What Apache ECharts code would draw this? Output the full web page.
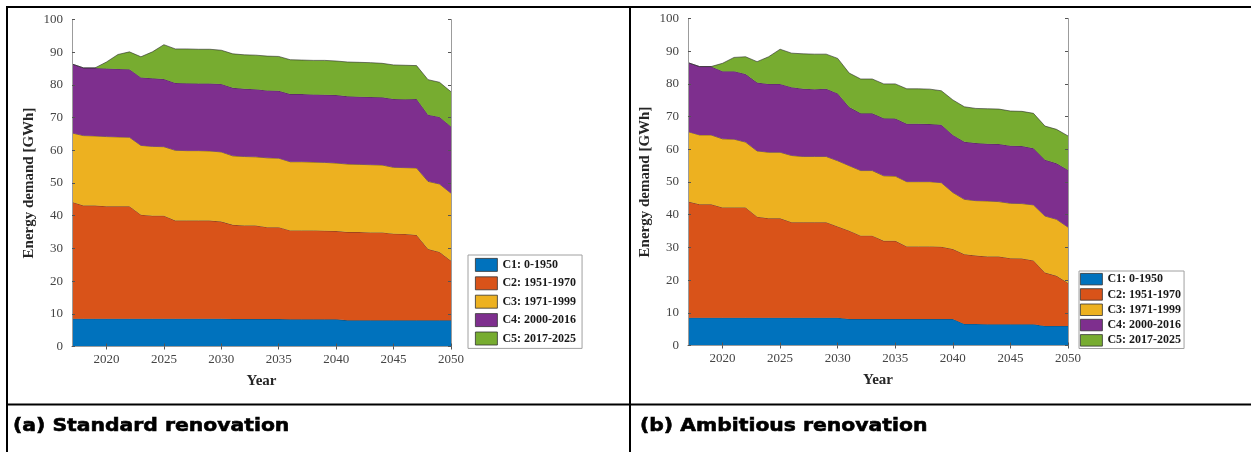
<!DOCTYPE html>
<html>
<head>
<meta charset="utf-8">
<script src="https://cdn.jsdelivr.net/npm/echarts@6/dist/echarts.min.js"></script>
<style>
  html, body { margin: 0; padding: 0; background: #fff; }
  #chart { width: 1251px; height: 452px; }
</style>
</head>
<body>
<div id="chart"></div>
<script>
// Building-stock energy demand by construction cohort, two renovation scenarios
const years = [2017, 2018, 2019, 2020, 2021, 2022, 2023, 2024, 2025, 2026, 2027, 2028,
  2029, 2030, 2031, 2032, 2033, 2034, 2035, 2036, 2037, 2038, 2039, 2040, 2041, 2042,
  2043, 2044, 2045, 2046, 2047, 2048, 2049, 2050];

const cohortNames = ['C1: 0-1950', 'C2: 1951-1970', 'C3: 1971-1999', 'C4: 2000-2016', 'C5: 2017-2025'];
const cohortColors = ['#0072BD', '#D95319', '#EDB120', '#7E2F8E', '#77AC30'];
const yTicks = [0, 10, 20, 30, 40, 50, 60, 70, 80, 90, 100];

// (a) Standard renovation, GWh per cohort
const standardC1 = [8.5, 8.5, 8.5, 8.5, 8.5, 8.5, 8.5, 8.5, 8.5, 8.5, 8.5, 8.5, 8.5, 8.5,
  8.4, 8.4, 8.4, 8.4, 8.4, 8.3, 8.3, 8.3, 8.3, 8.3, 8.0, 8.0, 8.0, 8.0, 8.0, 8.0, 8.0, 8.0, 8.0, 8.0];
const standardC2 = [35.7, 34.6, 34.6, 34.4, 34.4, 34.4, 31.8, 31.5, 31.5, 30.0, 30.0, 30.0,
  30.0, 29.7, 28.8, 28.6, 28.6, 28.1, 28.1, 27.2, 27.2, 27.2, 27.1, 27.0, 27.0, 27.0, 26.9,
  26.9, 26.5, 26.4, 26.1, 21.8, 20.9, 18.2];
const standardC3 = [21.1, 21.4, 21.3, 21.3, 21.2, 21.1, 21.2, 21.2, 21.1, 21.5, 21.4, 21.4,
  21.3, 21.3, 21.1, 21.1, 21.0, 21.2, 21.1, 21.0, 21.0, 20.9, 20.9, 20.8, 20.8, 20.7, 20.7,
  20.6, 20.3, 20.3, 20.5, 20.7, 20.8, 20.7];
const standardC4 = [21.1, 20.7, 20.8, 20.8, 20.8, 20.8, 20.8, 20.8, 20.7, 20.6, 20.6, 20.5,
  20.6, 20.8, 20.8, 20.7, 20.7, 20.6, 20.6, 20.7, 20.7, 20.7, 20.7, 20.8, 20.7, 20.7, 20.7,
  20.7, 20.9, 20.9, 21.1, 20.4, 20.5, 20.4];
const standardC5 = [0, 0, 0, 2.0, 4.4, 5.3, 6.3, 8.1, 10.5, 10.4, 10.5, 10.5, 10.5, 10.3,
  10.4, 10.4, 10.4, 10.5, 10.5, 10.5, 10.4, 10.4, 10.5, 10.4, 10.5, 10.5, 10.5, 10.4, 10.4,
  10.4, 10.2, 10.7, 10.6, 10.6];

// (b) Ambitious renovation, GWh per cohort
const ambitiousC1 = [8.5, 8.5, 8.5, 8.5, 8.5, 8.5, 8.5, 8.5, 8.5, 8.5, 8.5, 8.5, 8.5, 8.5,
  8.1, 8.1, 8.1, 8.1, 8.1, 8.1, 8.1, 8.1, 8.1, 8.1, 6.6, 6.6, 6.5, 6.5, 6.5, 6.5, 6.5, 6.0, 6.0, 6.0];
const ambitiousC2 = [35.5, 34.7, 34.7, 33.7, 33.7, 33.7, 30.9, 30.4, 30.4, 29.2, 29.2, 29.2,
  29.2, 27.9, 27.0, 25.5, 25.5, 23.9, 23.9, 22.2, 22.2, 22.2, 22.1, 21.4, 21.3, 20.9, 20.7,
  20.7, 20.2, 20.1, 19.5, 16.3, 15.3, 13.1];
const ambitiousC3 = [21.4, 21.2, 21.2, 21.0, 20.9, 20.0, 20.1, 20.2, 20.2, 20.4, 20.1, 20.1,
  20.1, 20.1, 19.9, 19.9, 19.9, 19.9, 19.8, 19.8, 19.8, 19.8, 19.6, 17.3, 16.8, 16.8, 17.0,
  16.8, 16.8, 16.8, 17.0, 17.3, 17.3, 17.1];
const ambitiousC4 = [21.1, 20.9, 20.9, 20.7, 20.8, 20.8, 20.9, 20.9, 20.9, 20.9, 20.7, 20.6,
  20.7, 20.6, 17.9, 17.5, 17.5, 17.6, 17.6, 17.7, 17.7, 17.6, 17.7, 17.6, 17.6, 17.6, 17.5,
  17.6, 17.6, 17.6, 17.3, 17.2, 17.1, 17.5];
const ambitiousC5 = [0, 0, 0, 2.4, 4.2, 5.3, 6.4, 8.3, 10.6, 10.4, 10.7, 10.7, 10.6, 10.7,
  10.4, 10.5, 10.5, 10.5, 10.6, 10.7, 10.7, 10.7, 10.4, 10.7, 10.7, 10.6, 10.7, 10.7, 10.6,
  10.6, 10.7, 10.3, 10.4, 10.4];

const standardSeries = [standardC1, standardC2, standardC3, standardC4, standardC5];
const ambitiousSeries = [ambitiousC1, ambitiousC2, ambitiousC3, ambitiousC4, ambitiousC5];

const serif = '"Liberation Serif", "Times New Roman", serif';
const boxColor = '#9c9c9c';
const everyFifth = (i, v) => Number(v) % 5 === 0;

function bottomAxis(grid) {
  return {
    type: 'category', gridIndex: grid, data: years.map(String), boundaryGap: false, z: 10,
    name: 'Year', nameLocation: 'middle', nameGap: 27,
    nameTextStyle: { fontFamily: serif, fontWeight: 'bold', fontSize: 15, color: '#262626' },
    axisLine: { show: true, lineStyle: { color: boxColor, width: 1 } },
    axisTick: { show: true, inside: true, length: 3, interval: everyFifth, lineStyle: { color: '#555' } },
    axisLabel: { interval: everyFifth, margin: 7, fontFamily: serif, fontSize: 13, color: '#444' },
    splitLine: { show: false }
  };
}
function topAxis(grid) {
  return {
    type: 'category', gridIndex: grid, data: years.map(String), boundaryGap: false, position: 'top', z: 10,
    axisLine: { show: true, lineStyle: { color: boxColor, width: 1 } },
    axisTick: { show: true, inside: true, length: 3, interval: everyFifth, lineStyle: { color: '#555' } },
    axisLabel: { show: false }, splitLine: { show: false }
  };
}
function leftAxis(grid) {
  return {
    type: 'value', gridIndex: grid, min: yTicks[0], max: yTicks[yTicks.length - 1], interval: 10, z: 10,
    name: 'Energy demand [GWh]', nameLocation: 'middle', nameGap: 35,
    nameTextStyle: { fontFamily: serif, fontWeight: 'bold', fontSize: 15, color: '#262626' },
    axisLine: { show: true, lineStyle: { color: boxColor, width: 1 } },
    axisTick: { show: true, inside: true, length: 3, lineStyle: { color: '#555' } },
    axisLabel: { margin: 9, fontFamily: serif, fontSize: 13, color: '#444' },
    splitLine: { show: false }
  };
}
function rightAxis(grid) {
  return {
    type: 'value', gridIndex: grid, min: yTicks[0], max: yTicks[yTicks.length - 1], interval: 10,
    position: 'right', z: 10,
    axisLine: { show: true, lineStyle: { color: boxColor, width: 1 } },
    axisTick: { show: true, inside: true, length: 3, lineStyle: { color: '#555' } },
    axisLabel: { show: false }, splitLine: { show: false }
  };
}

function stackSeries(valuesList, axisIndex, stackId) {
  return valuesList.map((values, i) => ({
    name: cohortNames[i], type: 'line', stack: stackId,
    xAxisIndex: axisIndex, yAxisIndex: axisIndex,
    data: values, symbol: 'none', smooth: false, z: 2 + i,
    color: cohortColors[i],
    lineStyle: { color: '#2a2a2a', width: 0.7, opacity: 0.85 },
    areaStyle: { color: cohortColors[i], opacity: 1 },
    emphasis: { disabled: true }
  }));
}

function legendBox(left, top, itemHeight, itemGap, padding) {
  return {
    orient: 'vertical', left: left, top: top, data: cohortNames,
    icon: 'rect', itemWidth: 22, itemHeight: itemHeight, itemGap: itemGap,
    padding: padding, borderColor: '#a0a0a0', borderWidth: 1, borderRadius: 0,
    backgroundColor: '#fff', selectedMode: false,
    itemStyle: { borderColor: '#333', borderWidth: 0.8 },
    textStyle: { fontFamily: serif, fontWeight: 'bold', fontSize: 12, color: '#1a1a1a', lineHeight: 12 }
  };
}

// heavy caption text under each panel
function caption(x, label) {
  return {
    type: 'text', x: x, y: 426, z: 100, scaleX: 1.13,
    style: {
      text: label, fill: '#000', stroke: '#000', lineWidth: 0.6,
      font: 'bold 18px "DejaVu Sans", sans-serif', verticalAlign: 'middle'
    }
  };
}

const chart = echarts.init(document.getElementById('chart'), null, { renderer: 'canvas' });
chart.setOption({
  animation: false,
  backgroundColor: '#fff',
  grid: [
    { left: 72, top: 19.5, width: 379, height: 327, containLabel: false },
    { left: 688, top: 18.5, width: 380, height: 327, containLabel: false }
  ],
  xAxis: [bottomAxis(0), topAxis(0), bottomAxis(1), topAxis(1)],
  yAxis: [leftAxis(0), rightAxis(0), leftAxis(1), rightAxis(1)],
  legend: [
    legendBox(468, 255, 13, 4.6, [3, 6, 3, 7]),
    legendBox(1079, 271, 11.5, 3, [2, 3, 2, 1])
  ],
  series: [].concat(stackSeries(standardSeries, 0, 'standard'))
            .concat(stackSeries(ambitiousSeries, 2, 'ambitious')),
  graphic: [
    // table rules around the two panels and the caption row
    { type: 'rect', shape: { x: 6, y: 6, width: 1245, height: 2 }, style: { fill: '#000' }, z: 100 },
    { type: 'rect', shape: { x: 6, y: 6, width: 2, height: 446 }, style: { fill: '#000' }, z: 100 },
    { type: 'rect', shape: { x: 629, y: 6, width: 2, height: 446 }, style: { fill: '#000' }, z: 100 },
    { type: 'rect', shape: { x: 6, y: 403.5, width: 1245, height: 2 }, style: { fill: '#000' }, z: 100 },
    caption(13, '(a) Standard renovation'),
    caption(640, '(b) Ambitious renovation')
  ]
});
</script>
</body>
</html>
